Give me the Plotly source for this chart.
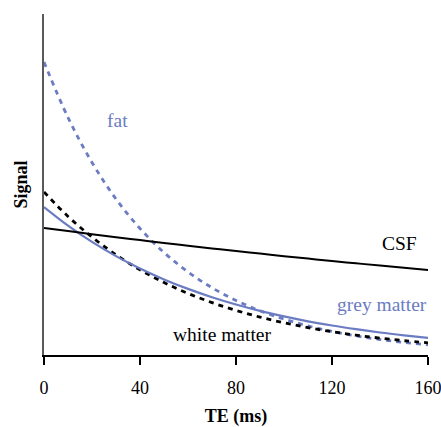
import plotly.graph_objects as go

te = [0, 10, 20, 30, 40, 50, 60, 70, 80, 90, 100, 110, 120, 130, 140, 150, 160]
csf = [127, 123.9, 120.8, 117.8, 114.9, 112.0, 109.3, 106.6, 103.9, 101.4, 98.8, 96.4, 94.0, 91.7, 89.4, 87.2, 85.1]
fat = [293, 237.5, 192.5, 156.0, 126.5, 102.5, 83.1, 67.3, 54.6, 44.2, 35.9, 29.1, 23.6, 19.1, 15.5, 12.5, 10.2]
grey = [148, 129.4, 113.1, 98.9, 86.5, 75.6, 66.1, 57.8, 50.5, 44.1, 38.6, 33.7, 29.5, 25.8, 22.5, 19.7, 17.2]
white = [163, 138.6, 117.9, 100.2, 85.2, 72.5, 61.6, 52.4, 44.6, 37.9, 32.2, 27.4, 23.3, 19.8, 16.9, 14.3, 12.2]
x_ticks = [0, 40, 80, 120, 160]

BLUE = "#6b7cc2"
SERIF = "Liberation Serif, Times New Roman, serif"

fig = go.Figure()
fig.add_trace(go.Scatter(x=te, y=fat, mode="lines", line=dict(color=BLUE, width=2.8, dash="5px,5px", shape="spline"), name="fat"))
fig.add_trace(go.Scatter(x=te, y=white, mode="lines", line=dict(color="black", width=2.8, dash="5px,5px", shape="spline"), name="white matter"))
fig.add_trace(go.Scatter(x=te, y=grey, mode="lines", line=dict(color=BLUE, width=2.2, shape="spline"), name="grey matter"))
fig.add_trace(go.Scatter(x=te, y=csf, mode="lines", line=dict(color="black", width=2, shape="spline"), name="CSF"))

annots = [
    dict(x=30.5, y=235, text="fat", color=BLUE),
    dict(x=148, y=112, text="CSF", color="black"),
    dict(x=141, y=51, text="grey matter", color=BLUE),
    dict(x=74.5, y=21, text="white matter", color="black"),
]
for a in annots:
    fig.add_annotation(x=a["x"], y=a["y"], text=a["text"], showarrow=False,
                       font=dict(family=SERIF, size=19.5, color=a["color"]))

fig.add_annotation(xref="paper", yref="paper", x=0, y=0.5, xshift=-24, xanchor="center", yanchor="middle",
                   text="<b>Signal</b>", textangle=-90, showarrow=False,
                   font=dict(family=SERIF, size=18, color="black"))

fig.update_layout(
    width=441, height=427,
    margin=dict(l=44, r=13, t=14, b=72, autoexpand=False),
    paper_bgcolor="white", plot_bgcolor="white",
    showlegend=False,
    font=dict(family=SERIF, size=18, color="black"),
)
fig.update_xaxes(range=[0, 160], tickvals=x_ticks, ticktext=[str(v) for v in x_ticks],
                 showline=True, linecolor="black", linewidth=1.5, ticks="outside", ticklen=8,
                 tickcolor="black", tickwidth=1.5, showgrid=False, zeroline=False,
                 ticklabelstandoff=8, ticklabeloverflow="allow", automargin=False,
                 title=dict(text="<b>TE (ms)</b>", font=dict(family=SERIF, size=18), standoff=16))
fig.update_yaxes(range=[0, 341], showline=True, linecolor="#5a5a5a", linewidth=2,
                 showticklabels=False, ticks="", showgrid=False, zeroline=False, automargin=False)

fig.write_html("out.html", config={"displayModeBar": False},
               post_script="document.body.style.margin='0';document.body.style.overflow='hidden';")
